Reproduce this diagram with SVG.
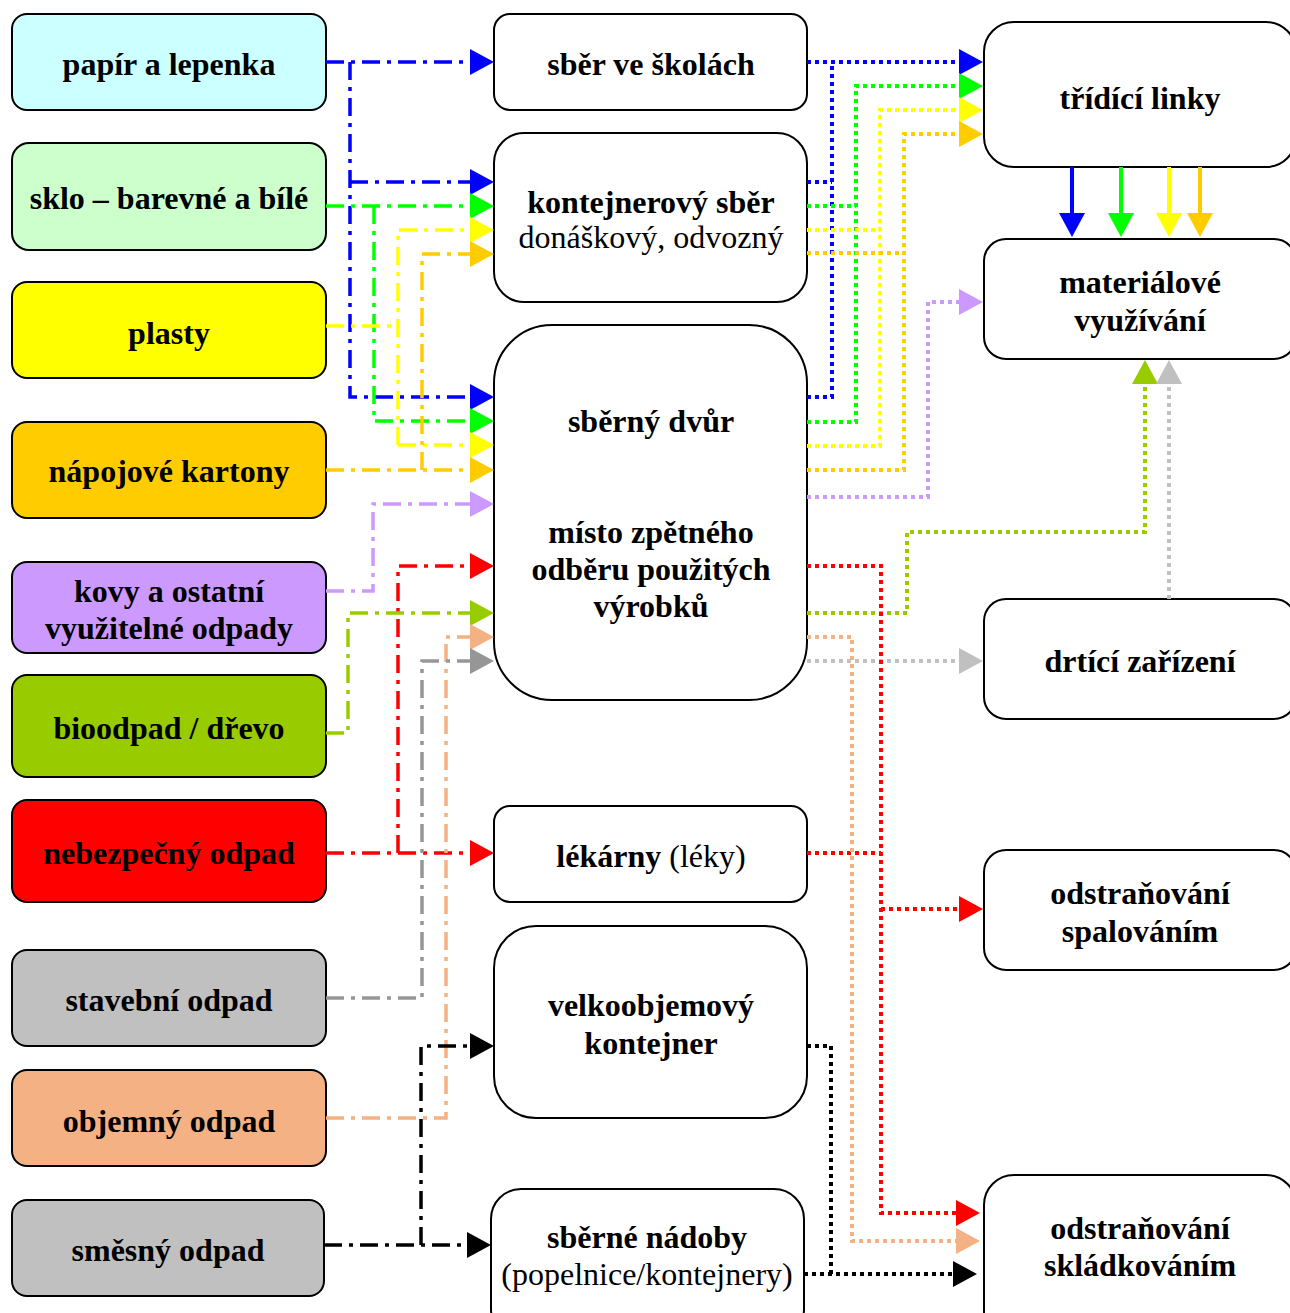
<svg xmlns="http://www.w3.org/2000/svg" width="1290" height="1313" viewBox="0 0 1290 1313">
<style>
.box{stroke:#000;stroke-width:2}
.w{fill:#fff}
.t{font-family:"Liberation Serif","Times New Roman",serif;font-size:32px;font-weight:bold;text-anchor:middle;fill:#000}
.n{font-weight:normal}
.dd{fill:none;stroke-width:3.5;stroke-dasharray:18 7 4 7}
.dt{fill:none;stroke-width:4;stroke-dasharray:4 4}
.sl{fill:none;stroke-width:4}
.cb{stroke:#0000FF}.cg{stroke:#00FF00}.cy{stroke:#FFFF00}.co{stroke:#FFCC00}.cp{stroke:#CC99FF}
.cr{stroke:#FF0000}.cbio{stroke:#99CC00}.cpe{stroke:#F4B183}.cgr{stroke:#969696}.clg{stroke:#C0C0C0}.ck{stroke:#000}
</style>
<defs>
<marker id="mb" markerUnits="userSpaceOnUse" markerWidth="24" markerHeight="26" viewBox="0 0 24 26" refX="18" refY="13" orient="auto"><path d="M0,0L24,13L0,26z" fill="#0000FF"/></marker>
<marker id="mg" markerUnits="userSpaceOnUse" markerWidth="24" markerHeight="26" viewBox="0 0 24 26" refX="18" refY="13" orient="auto"><path d="M0,0L24,13L0,26z" fill="#00FF00"/></marker>
<marker id="my" markerUnits="userSpaceOnUse" markerWidth="24" markerHeight="26" viewBox="0 0 24 26" refX="18" refY="13" orient="auto"><path d="M0,0L24,13L0,26z" fill="#FFFF00"/></marker>
<marker id="mo" markerUnits="userSpaceOnUse" markerWidth="24" markerHeight="26" viewBox="0 0 24 26" refX="18" refY="13" orient="auto"><path d="M0,0L24,13L0,26z" fill="#FFCC00"/></marker>
<marker id="mp" markerUnits="userSpaceOnUse" markerWidth="24" markerHeight="26" viewBox="0 0 24 26" refX="18" refY="13" orient="auto"><path d="M0,0L24,13L0,26z" fill="#CC99FF"/></marker>
<marker id="mr" markerUnits="userSpaceOnUse" markerWidth="24" markerHeight="26" viewBox="0 0 24 26" refX="18" refY="13" orient="auto"><path d="M0,0L24,13L0,26z" fill="#FF0000"/></marker>
<marker id="mbio" markerUnits="userSpaceOnUse" markerWidth="24" markerHeight="26" viewBox="0 0 24 26" refX="18" refY="13" orient="auto"><path d="M0,0L24,13L0,26z" fill="#99CC00"/></marker>
<marker id="mpe" markerUnits="userSpaceOnUse" markerWidth="24" markerHeight="26" viewBox="0 0 24 26" refX="18" refY="13" orient="auto"><path d="M0,0L24,13L0,26z" fill="#F4B183"/></marker>
<marker id="mgr" markerUnits="userSpaceOnUse" markerWidth="24" markerHeight="26" viewBox="0 0 24 26" refX="18" refY="13" orient="auto"><path d="M0,0L24,13L0,26z" fill="#969696"/></marker>
<marker id="mlg" markerUnits="userSpaceOnUse" markerWidth="24" markerHeight="26" viewBox="0 0 24 26" refX="18" refY="13" orient="auto"><path d="M0,0L24,13L0,26z" fill="#C0C0C0"/></marker>
<marker id="mk" markerUnits="userSpaceOnUse" markerWidth="24" markerHeight="26" viewBox="0 0 24 26" refX="18" refY="13" orient="auto"><path d="M0,0L24,13L0,26z" fill="#000"/></marker>
</defs>

<!-- left nodes -->
<g id="papir"><rect class="box" x="12" y="14" width="314" height="96" rx="15" fill="#CCFFFF"/><text class="t" x="169" y="75">papír a lepenka</text></g>
<g id="sklo"><rect class="box" x="12" y="143" width="314" height="107" rx="17" fill="#CCFFCC"/><text class="t" x="169" y="209">sklo – barevné a bílé</text></g>
<g id="plasty"><rect class="box" x="12" y="282" width="314" height="96" rx="15" fill="#FFFF00"/><text class="t" x="169" y="344">plasty</text></g>
<g id="napojove"><rect class="box" x="12" y="422" width="314" height="96" rx="15" fill="#FFCC00"/><text class="t" x="169" y="482">nápojové kartony</text></g>
<g id="kovy"><rect class="box" x="12" y="562" width="314" height="91" rx="15" fill="#CC99FF"/><text class="t" x="169" y="602">kovy a ostatní</text><text class="t" x="169" y="639">využitelné odpady</text></g>
<g id="bioodpad"><rect class="box" x="12" y="675" width="314" height="102" rx="15" fill="#99CC00"/><text class="t" x="169" y="739">bioodpad / dřevo</text></g>
<g id="nebezpecny"><rect class="box" x="12" y="800" width="314" height="102" rx="15" fill="#FF0000"/><text class="t" x="169" y="864">nebezpečný odpad</text></g>
<g id="stavebni"><rect class="box" x="12" y="950" width="314" height="96" rx="15" fill="#C0C0C0"/><text class="t" x="169" y="1011">stavební odpad</text></g>
<g id="objemny"><rect class="box" x="12" y="1070" width="314" height="96" rx="15" fill="#F4B183"/><text class="t" x="169" y="1132">objemný odpad</text></g>
<g id="smesny"><rect class="box" x="12" y="1200" width="312" height="96" rx="15" fill="#C0C0C0"/><text class="t" x="168" y="1261">směsný odpad</text></g>

<!-- middle nodes -->
<g id="skoly"><rect class="box w" x="494" y="14" width="313" height="96" rx="16"/><text class="t" x="651" y="75">sběr ve školách</text></g>
<g id="kontejnerovy"><rect class="box w" x="494" y="133" width="313" height="169" rx="30"/><text class="t" x="651" y="213">kontejnerový sběr</text><text class="t n" x="651" y="248">donáškový, odvozný</text></g>
<g id="dvur"><rect class="box w" x="494" y="325" width="313" height="375" rx="58"/><text class="t" x="651" y="432">sběrný dvůr</text><text class="t" x="651" y="543">místo zpětného</text><text class="t" x="651" y="580">odběru použitých</text><text class="t" x="651" y="617">výrobků</text></g>
<g id="lekarny"><rect class="box w" x="494" y="806" width="313" height="96" rx="16"/><text class="t" x="651" y="867">lékárny<tspan class="n"> (léky)</tspan></text></g>
<g id="velkoobjemovy"><rect class="box w" x="494" y="926" width="313" height="192" rx="42"/><text class="t" x="651" y="1016">velkoobjemový</text><text class="t" x="651" y="1054">kontejner</text></g>
<g id="nadoby"><rect class="box w" x="491" y="1189" width="313" height="150" rx="30"/><text class="t" x="647" y="1248">sběrné nádoby</text><text class="t n" x="647" y="1285">(popelnice/kontejnery)</text></g>

<!-- right nodes -->
<g id="tridici"><rect class="box w" x="984" y="22" width="312" height="145" rx="30"/><text class="t" x="1140" y="109">třídící linky</text></g>
<g id="materialove"><rect class="box w" x="984" y="239" width="312" height="120" rx="22"/><text class="t" x="1140" y="293">materiálové</text><text class="t" x="1140" y="331">využívání</text></g>
<g id="drtici"><rect class="box w" x="984" y="599" width="312" height="120" rx="22"/><text class="t" x="1140" y="672">drtící zařízení</text></g>
<g id="spalovani"><rect class="box w" x="984" y="850" width="312" height="120" rx="22"/><text class="t" x="1140" y="904">odstraňování</text><text class="t" x="1140" y="942">spalováním</text></g>
<g id="skladkovani"><rect class="box w" x="984" y="1175" width="312" height="170" rx="30"/><text class="t" x="1140" y="1239">odstraňování</text><text class="t" x="1140" y="1276">skládkováním</text></g>

<g id="connectors">
<!-- left dash-dot -->
<path class="dd cb" d="M326,62H488" marker-end="url(#mb)"/>
<path class="dd cb" d="M350,62V397H488" marker-end="url(#mb)"/>
<path class="dd cb" d="M350,182H488" marker-end="url(#mb)"/>
<path class="dd cg" d="M326,206H488" marker-end="url(#mg)"/>
<path class="dd cg" d="M374,206V421H488" marker-end="url(#mg)"/>
<path class="dd cy" d="M326,326H398"/>
<path class="dd cy" d="M398,445V230H488" marker-end="url(#my)"/>
<path class="dd cy" d="M398,445H488" marker-end="url(#my)"/>
<path class="dd co" d="M326,470H488" marker-end="url(#mo)"/>
<path class="dd co" d="M422,470V254H488" marker-end="url(#mo)"/>
<path class="dd cp" d="M326,591H373V504H488" marker-end="url(#mp)"/>
<path class="dd cr" d="M326,853H488" marker-end="url(#mr)"/>
<path class="dd cr" d="M398,853V566H488" marker-end="url(#mr)"/>
<path class="dd cbio" d="M326,733H348V613H488" marker-end="url(#mbio)"/>
<path class="dd cpe" d="M326,1118H446V637H488" marker-end="url(#mpe)"/>
<path class="dd cgr" d="M326,998H422V661H488" marker-end="url(#mgr)"/>
<path class="dd ck" d="M324,1245H485" marker-end="url(#mk)"/>
<path class="dd ck" d="M421,1245V1046H488" marker-end="url(#mk)"/>
<!-- right dotted -->
<path class="dt cb" d="M807,62H977" marker-end="url(#mb)"/>
<path class="dt cb" d="M807,397H832V62"/>
<path class="dt cb" d="M807,182H832"/>
<path class="dt cg" d="M807,422H856V86H977" marker-end="url(#mg)"/>
<path class="dt cg" d="M807,206H856"/>
<path class="dt cy" d="M807,446H880V110H977" marker-end="url(#my)"/>
<path class="dt cy" d="M807,230H880"/>
<path class="dt co" d="M807,470H904V134H977" marker-end="url(#mo)"/>
<path class="dt co" d="M807,253H904"/>
<path class="dt cp" d="M807,497H928V302H977" marker-end="url(#mp)"/>
<path class="dt cbio" d="M807,613H907V532H1145V366" marker-end="url(#mbio)"/>
<path class="dt clg" d="M807,661H977" marker-end="url(#mlg)"/>
<path class="dt clg" d="M1169,599V366" marker-end="url(#mlg)"/>
<path class="dt cr" d="M807,566H881V1213H974" marker-end="url(#mr)"/>
<path class="dt cr" d="M807,853H881"/>
<path class="dt cr" d="M881,909H977" marker-end="url(#mr)"/>
<path class="dt cpe" d="M807,637H852V1241H974" marker-end="url(#mpe)"/>
<path class="dt ck" d="M807,1046H831V1274"/>
<path class="dt ck" d="M804,1274H971" marker-end="url(#mk)"/>
<!-- solid -->
<path class="sl cb" d="M1072,167V231" marker-end="url(#mb)"/>
<path class="sl cg" d="M1121,167V231" marker-end="url(#mg)"/>
<path class="sl cy" d="M1169,167V231" marker-end="url(#my)"/>
<path class="sl co" d="M1200,167V231" marker-end="url(#mo)"/>
</g>
</svg>
